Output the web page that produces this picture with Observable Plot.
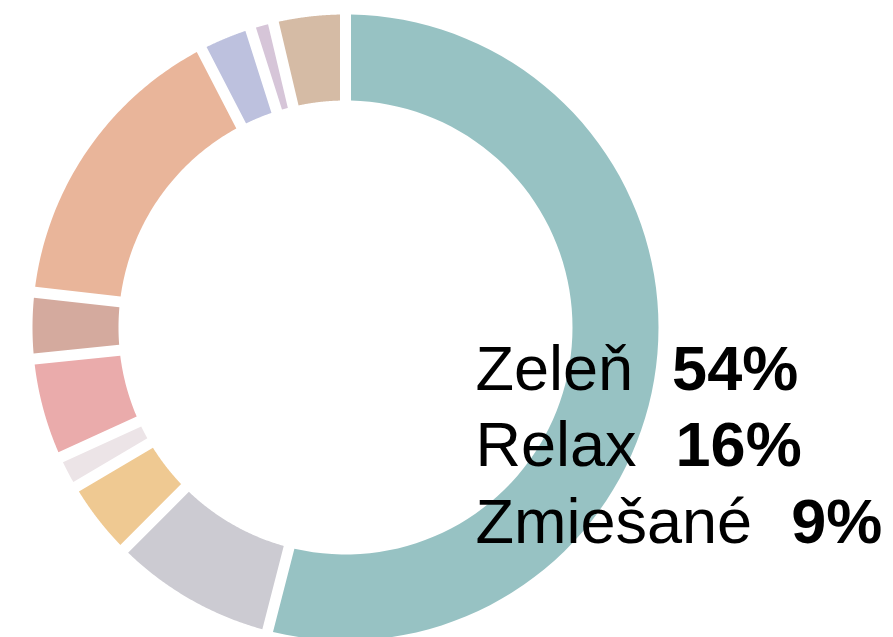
<!DOCTYPE html>
<html>
<head>
<meta charset="utf-8">
<script src="https://cdn.jsdelivr.net/npm/d3@7"></script>
<script src="https://cdn.jsdelivr.net/npm/@observablehq/plot@0.6"></script>
<style>
  html, body { margin: 0; padding: 0; background: #fff; }
  svg { display: block; }
</style>
</head>
<body>
<div id="chart"></div>
<script>
// Slices, clockwise from 12 o'clock
const categories = ["Zeleň", "Zmiešané", "Kvety", "Ostatné", "Ruže", "Sušené", "Relax", "Levanduľa", "Orchidey", "Byliny"];
const shares     = [54, 8.5, 4.0, 1.7, 5.2, 3.4, 15.6, 2.7, 1.2, 3.7];
const colors     = ["#97c2c3", "#cccbd2", "#efc992", "#ece4e7", "#eaabab", "#d4aa9e", "#e9b59a", "#bdc1de", "#d6c5d8", "#d5bba5"];

// Labels shown at right
const labelNames = ["Zeleň", "Relax", "Zmiešané"];
const labelPcts  = ["54%", "16%", "9%"];

// ring geometry (in plot units = pixels)
const R = 313, r = 227, half = 5.5;

const total = d3.sum(shares);
let acc = 0;
const pts = [];
categories.forEach((c, i) => {
  const a0 = acc / total * 2 * Math.PI;
  acc += shares[i];
  const a1 = acc / total * 2 * Math.PI;
  const N = 80;
  const oA = a0 + Math.asin(half / R), oB = a1 - Math.asin(half / R);
  const iA = a0 + Math.asin(half / r), iB = a1 - Math.asin(half / r);
  for (let k = 0; k <= N; k++) {
    const t = oA + (oB - oA) * k / N;
    pts.push({cat: c, x: R * Math.sin(t), y: R * Math.cos(t)});
  }
  for (let k = N; k >= 0; k--) {
    const t = iA + (iB - iA) * k / N;
    pts.push({cat: c, x: r * Math.sin(t), y: r * Math.cos(t)});
  }
});

const labels = labelNames.map((n, i) => ({name: n, pct: labelPcts[i], row: i}));

const plot = Plot.plot({
  width: 893,
  height: 637,
  margin: 0,
  x: {domain: [-345, 548], axis: null},
  y: {domain: [-310, 327], axis: null},
  color: {domain: categories, range: colors},
  style: {background: "#fff"},
  marks: [
    Plot.line(pts, {x: "x", y: "y", z: "cat", fill: "cat", stroke: null, curve: "linear"}),
    Plot.text(labels, {
      x: () => 130,
      y: d => -62 - d.row * 76.5,
      text: d => d.name + "\u00a0\u00a0" + d.pct,
      textAnchor: "start",
      lineAnchor: "bottom",
      fontSize: 63,
      fill: "#000",
      fontFamily: "'Liberation Sans', Arial, Helvetica, sans-serif",
      className: "lbl"
    })
  ]
});

// make the percentage part bold
plot.querySelectorAll(".lbl text").forEach((t, i) => {
  const full = t.textContent;
  const pct = labels[i] ? labels[i].pct : "";
  const name = full.slice(0, full.length - pct.length);
  t.textContent = "";
  const ns = "http://www.w3.org/2000/svg";
  const a = document.createElementNS(ns, "tspan");
  a.textContent = name;
  const b = document.createElementNS(ns, "tspan");
  b.textContent = pct;
  b.setAttribute("font-weight", "bold");
  b.setAttribute("dx", "4");
  t.appendChild(a);
  t.appendChild(b);
});

document.getElementById("chart").appendChild(plot);
</script>
</body>
</html>
